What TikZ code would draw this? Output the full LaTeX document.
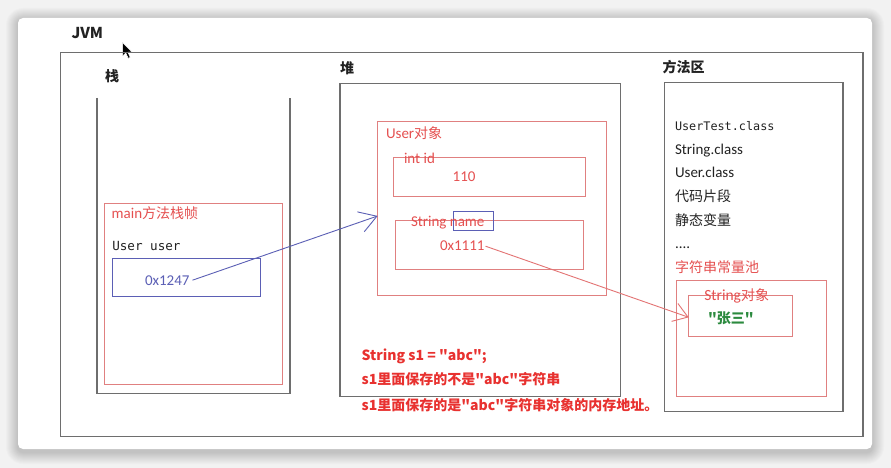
\documentclass[tikz,border=0pt]{standalone}
\usepackage{fontspec}
\setmainfont{Noto Sans CJK SC}[Ligatures=TeXOff]
\newfontfamily\lat{Carlito}[Ligatures=TeXOff]
\newfontfamily\monof{DejaVu Sans Mono}
\usetikzlibrary{arrows.meta}
\newcommand\myfs[1]{\fontsize{#1}{#1}\selectfont}
\definecolor{grayln}{HTML}{6E6E6E}
\definecolor{boxred}{HTML}{E08080}
\definecolor{txtred}{HTML}{E55050}
\definecolor{boldred}{HTML}{E8312F}
\definecolor{bluec}{HTML}{5B5FB5}
\definecolor{greenc}{HTML}{2B8A3E}
\definecolor{darktxt}{HTML}{222222}
\definecolor{bgc}{HTML}{F2F2F2}
\begin{document}
\begin{tikzpicture}[x=1pt,y=-1pt,
  graybox/.style={draw=grayln,line width=1.4pt,inner sep=0pt,outer sep=0pt,anchor=north west},
  redbox/.style={draw=boxred,line width=1pt,inner sep=0pt,outer sep=0pt,anchor=north west},
  bluebox/.style={draw=bluec,line width=1pt,inner sep=0pt,outer sep=0pt,anchor=north west},
  txt/.style={inner sep=0pt,outer sep=0pt,anchor=base west},
  head/.style={txt,text=darktxt,font=\myfs{14}\bfseries},
  rlab/.style={txt,text=txtred,font=\myfs{15}\lat},
  mlab/.style={txt,text=darktxt,font=\myfs{15}\lat},
  clab/.style={txt,text=darktxt,font=\myfs{14}},
  note/.style={txt,text=boldred,font=\myfs{14}\bfseries},
  arr/.style={line width=0.9pt,-{Straight Barb[length=17pt,width=21pt,line width=0.9pt]}}
]
\useasboundingbox (0,0) rectangle (891,468);
\fill[bgc] (0,0) rectangle (891,468);
% card shadow
\foreach \i in {1,...,12}{
  \pgfmathsetmacro\rr{5+\i}
  \fill[black,opacity=0.014,rounded corners=\rr pt] ({18-\i},{18-\i+2}) rectangle ({872+\i},{449+\i+3});
}
\fill[white,rounded corners=5pt] (18,18) rectangle (872,449);

% cursor
\filldraw[fill=black,draw=white,line width=0.5pt,line join=round]
  (122.5,42.5) -- (122.5,56) -- (125.8,53) -- (128.2,58.3) -- (130.2,57.4) -- (127.9,52.2) -- (132.3,52.2) -- cycle;

% JVM
\node[graybox,minimum width=802.5pt,minimum height=384.4pt] (jvm) at (60.5,52.3) {};
\node[txt,text=darktxt,font=\myfs{15}\bfseries] (jvmlab) at (71.5,38.3) {JVM};

% stack
\node[head] (stacklab) at (105,82) {栈};
\coordinate (stl) at (97,98);
\coordinate (str) at (290,98);
\draw[grayln,line width=1.4pt] (stl) -- (97,393.7) -- (290,393.7) -- (str);
\node[redbox,minimum width=177.6pt,minimum height=181pt] (mainf) at (104.7,203.3) {};
\node[txt,text=txtred,font=\myfs{14}] (mainlab) at (111.7,218) {{\lat\myfs{15}main}方法栈帧};
\node[txt,text=darktxt,font=\myfs{12.6}\monof] (uu) at (112.3,250) {User user};
\node[bluebox,minimum width=148pt,minimum height=37.7pt] (ubox) at (112.3,258.3) {};
\node[txt,text=bluec,font=\myfs{15}\lat] (t1247) at (145,285) {0x1247};

% heap
\node[head] (heaplab) at (340,74) {堆};
\node[graybox,minimum width=280.7pt,minimum height=313.4pt] (heap) at (340,83.3) {};
\node[redbox,minimum width=229pt,minimum height=173.3pt] (userobj) at (377.7,121.7) {};
\node[txt,text=txtred,font=\myfs{14}] (uolab) at (386,139) {{\lat\myfs{15}User}对象};
\node[redbox,minimum width=192.4pt,minimum height=38.3pt] (idbox) at (393.3,157.7) {};
\node[rlab] (idlab) at (404,163.3) {int id};
\node[rlab] (t110) at (452.7,181.7) {110};
\node[redbox,minimum width=187.6pt,minimum height=48.6pt] (namebox) at (395.7,220.7) {};
\node[bluebox,minimum width=39.6pt,minimum height=18.3pt] (nmhl) at (453.7,211.7) {};
\node[rlab] (namelab) at (411,226.5) {String name};
\node[rlab] (t1111) at (440,250) {0x1111};

% method area
\node[head] (malab) at (662.7,72.5) {方法区};
\node[graybox,minimum width=178.7pt,minimum height=329pt] (marea) at (664.3,82.3) {};
\node[txt,text=darktxt,font=\myfs{11.8}\monof] (c1) at (675,130.7) {UserTest.class};
\node[mlab] (c2) at (675,154) {String.class};
\node[mlab] (c3) at (675,177.3) {User.class};
\node[clab] (c4) at (675,201.5) {代码片段};
\node[clab] (c5) at (675,225) {静态变量};
\node[mlab] (c6) at (675,248) {....};
\node[txt,text=txtred,font=\myfs{14}] (poollab) at (675,272.5) {字符串常量池};
\node[redbox,minimum width=150pt,minimum height=115.3pt] (pool) at (676.7,280.7) {};
\node[redbox,minimum width=103.6pt,minimum height=41pt] (strobj) at (688.7,295) {};
\node[txt,text=txtred,font=\myfs{14}] (solab) at (704.3,300.5) {{\lat\myfs{15.5}String}对象};
\node[txt,text=greenc,font=\myfs{14}\bfseries] (zs) at (708,323) {"张三"};

% notes
\node[note] (n1) at (361.7,360) {String s1 = "abc";};
\node[note] (n2) at (361.7,384.5) {s1里面保存的不是"abc"字符串};
\node[note] (n3) at (361.7,410) {s1里面保存的是"abc"字符串对象的内存地址。};

% arrows
\draw[arr,bluec] ([xshift=3pt]t1247.east) -- ([yshift=-7.6pt]userobj.west);
\draw[arr,boxred!90!red,-{Straight Barb[length=14pt,width=19pt,line width=0.9pt]}] ([xshift=1pt,yshift=-1pt]t1111.east) -- ([yshift=-1.8pt]strobj.west);
\end{tikzpicture}
\end{document}
